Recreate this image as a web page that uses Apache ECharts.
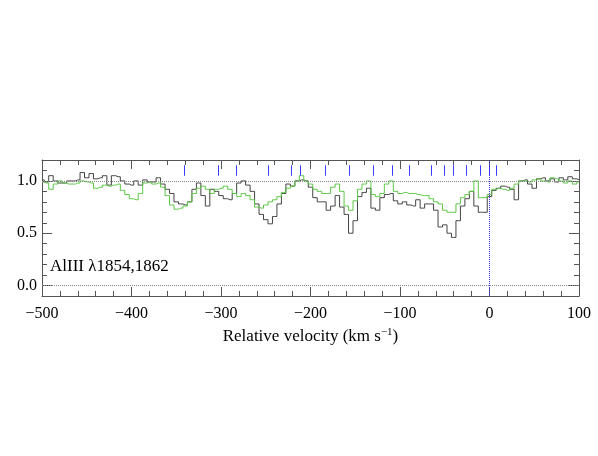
<!DOCTYPE html>
<html>
<head>
<meta charset="utf-8">
<script src="https://cdn.jsdelivr.net/npm/echarts@6/dist/echarts.min.js"></script>
<style>
  html, body { margin: 0; padding: 0; background: #fff; }
  #chart { width: 598px; height: 456px; }
</style>
</head>
<body>
<div id="chart"></div>
<script>
// velocity grid, km/s (5 km/s bins from -500 to 100)
var velStart = -500
var velStep = 5
// normalised flux, AlIII 1854 (black) and 1862 (green)
var fluxBlack = [
  1.01, 0.99, 1.05, 1.00, 0.98, 0.98, 1.00, 1.00, 1.01, 1.08,
  1.03, 1.07, 1.02, 1.03, 1.05, 0.96, 1.05, 1.04, 1.00, 0.97,
  0.96, 1.00, 0.96, 1.01, 0.99, 0.99, 1.03, 0.97, 0.92, 0.88,
  0.80, 0.78, 0.77, 0.80, 0.92, 0.98, 0.86, 0.76, 0.92, 0.90,
  0.86, 0.83, 0.82, 0.88, 0.98, 1.00, 0.96, 0.90, 0.78, 0.68,
  0.63, 0.59, 0.66, 0.78, 0.88, 0.97, 0.95, 1.00, 1.01, 1.00,
  0.94, 0.84, 0.80, 0.80, 0.72, 0.76, 0.86, 0.75, 0.68, 0.50,
  0.62, 0.85, 0.89, 0.93, 0.74, 0.72, 0.84, 0.87, 0.88, 0.81,
  0.78, 0.80, 0.77, 0.76, 0.82, 0.74, 0.78, 0.78, 0.72, 0.56,
  0.58, 0.50, 0.46, 0.62, 0.76, 0.83, 0.90, 0.76, 0.70, 0.70,
  0.85, 0.91, 0.93, 0.95, 0.94, 0.92, 0.82, 1.00, 1.01, 0.97,
  0.93, 1.02, 1.03, 1.00, 1.02, 0.99, 1.03, 1.01, 1.04, 1.02,
  1.01
]
var fluxGreen = [
  0.99, 0.98, 0.92, 0.97, 1.00, 0.98, 0.97, 0.97, 0.98, 1.00,
  0.99, 0.98, 0.93, 0.94, 0.96, 0.95, 0.96, 0.97, 0.91, 0.87,
  0.83, 0.82, 0.88, 0.98, 0.99, 0.97, 0.98, 0.94, 0.86, 0.77,
  0.73, 0.74, 0.76, 0.80, 0.88, 0.93, 0.95, 0.92, 0.88, 0.92,
  0.93, 0.95, 0.92, 0.88, 0.85, 0.88, 0.86, 0.82, 0.75, 0.74,
  0.77, 0.80, 0.82, 0.85, 0.89, 0.93, 0.95, 1.00, 1.05, 1.00,
  0.97, 0.92, 0.90, 0.88, 0.88, 0.94, 0.97, 0.90, 0.76, 0.72,
  0.81, 0.92, 0.97, 1.00, 0.87, 0.85, 0.88, 0.97, 1.00, 0.90,
  0.88, 0.89, 0.88, 0.88, 0.87, 0.86, 0.86, 0.83, 0.80, 0.78,
  0.72, 0.70, 0.70, 0.78, 0.84, 0.87, 0.90, 1.00, 0.84, 0.84,
  0.87, 0.92, 0.93, 0.92, 0.91, 0.93, 0.97, 1.00, 1.00, 0.99,
  1.01, 1.02, 1.00, 0.99, 1.03, 1.02, 1.00, 0.98, 1.00, 0.97,
  0.99
]
// component positions (blue tick marks), km/s
var components = [-341, -303, -283, -247, -222, -211, -184, -157, -130, -109, -90, -65, -51, -40, -26, -10, 0, 7]
var yMajorTicks = [0, 0.5, 1.0]
var label = 'AlIII \u03bb1854,1862'

var fontFamily = 'Liberation Serif'
var axisColor = '#555'
var blue = '#3b3bff'

function pairs (values) {
  return values.map(function (v, i) { return [velStart + i * velStep, v] })
}

var compLines = components.map(function (v) {
  return [{ coord: [v, 1.05] }, { coord: [v, 1.15] }]
})

var minusFmt = function (v) {
  return v < 0 ? '\u2212' + Math.abs(v) : String(v)
}

var xBase = {
  type: 'value',
  min: -500,
  max: 100,
  interval: 100,
  axisLine: { show: true, onZero: false, lineStyle: { color: axisColor, width: 1 } },
  axisTick: { show: true, inside: true, length: 9, lineStyle: { color: axisColor } },
  minorTick: { show: true, splitNumber: 5, length: 5, lineStyle: { color: axisColor } },
  splitLine: { show: false }
}

var yMinor = {
  type: 'value',
  min: -0.1,
  max: 1.2,
  interval: 0.1,
  axisLine: { show: true, onZero: false, lineStyle: { color: axisColor, width: 1 } },
  axisTick: { show: true, inside: true, length: 5, lineStyle: { color: axisColor } },
  axisLabel: { show: false },
  splitLine: { show: false }
}

var yMajor = {
  type: 'value',
  min: -0.1,
  max: 1.2,
  interval: 0.1,
  axisLine: { show: false, onZero: false },
  axisTick: { show: true, inside: true, length: 10, customValues: yMajorTicks, lineStyle: { color: axisColor } },
  splitLine: { show: false }
}

var option = {
  animation: false,
  backgroundColor: '#fff',
  grid: { left: 42, right: 19, top: 160, bottom: 160, containLabel: false },
  title: {
    text: label,
    left: 50,
    top: 258,
    padding: 0,
    textStyle: { fontFamily: fontFamily, fontSize: 17, fontWeight: 'normal', color: '#000' }
  },
  xAxis: [
    Object.assign({}, xBase, {
      position: 'bottom',
      axisLabel: {
        show: true, margin: 10, formatter: minusFmt,
        fontFamily: fontFamily, fontSize: 16, color: '#000'
      },
      name: 'Relative velocity (km s{sup|\u22121})',
      nameLocation: 'middle',
      nameGap: 31,
      nameTextStyle: {
        fontFamily: fontFamily, fontSize: 17, color: '#000',
        rich: { sup: { fontFamily: fontFamily, fontSize: 11, color: '#000', padding: [0, 0, 9, 0] } }
      }
    }),
    Object.assign({}, xBase, { position: 'top', axisLabel: { show: false } })
  ],
  yAxis: [
    Object.assign({}, yMinor, { position: 'left' }),
    Object.assign({}, yMajor, {
      position: 'left',
      axisLabel: {
        show: true, customValues: yMajorTicks, margin: 5,
        formatter: function (v) { return v.toFixed(1) },
        fontFamily: fontFamily, fontSize: 16, color: '#000'
      }
    }),
    Object.assign({}, yMinor, { position: 'right' }),
    Object.assign({}, yMajor, { position: 'right', axisLabel: { show: false } })
  ],
  series: [
    {
      name: 'AlIII 1854',
      type: 'line',
      step: 'middle',
      showSymbol: false,
      symbol: 'none',
      data: pairs(fluxBlack),
      lineStyle: { color: '#444', width: 1 },
      z: 2
    },
    {
      name: 'AlIII 1862',
      type: 'line',
      step: 'middle',
      showSymbol: false,
      symbol: 'none',
      data: pairs(fluxGreen),
      lineStyle: { color: '#5cc845', width: 1 },
      z: 3
    },
    {
      name: 'guides',
      type: 'line',
      data: [],
      markLine: {
        silent: true,
        symbol: 'none',
        animation: false,
        label: { show: false },
        lineStyle: { color: '#888', type: 'dotted', width: 1 },
        data: [
          { yAxis: 1 },
          { yAxis: 0 }
        ]
      },
      z: 1
    },
    {
      // zero-velocity marker
      name: 'zero',
      type: 'line',
      showSymbol: false,
      symbol: 'none',
      data: [[0, -0.1], [0, 1.2]],
      lineStyle: { color: '#3333ff', type: [1, 1], width: 1 },
      z: 5
    },
    {
      name: 'components',
      type: 'line',
      data: [],
      markLine: {
        silent: true,
        symbol: 'none',
        animation: false,
        label: { show: false },
        lineStyle: { color: blue, type: 'solid', width: 1 },
        data: compLines
      },
      z: 4
    }
  ]
}

var chart = echarts.init(document.getElementById('chart'))
chart.setOption(option)
</script>
</body>
</html>
